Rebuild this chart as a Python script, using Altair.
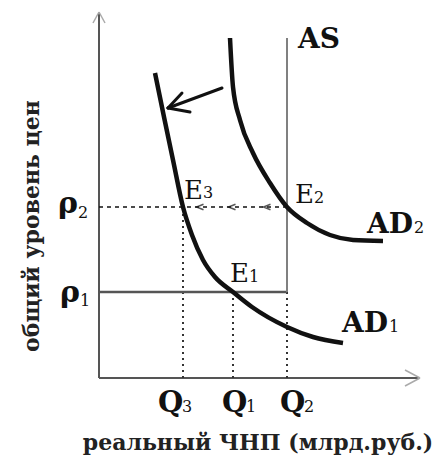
import altair as alt
import pandas as pd

# ---- values (data units: origin at the axes' corner) ----
Q3, Q1, Q2 = 84, 134, 188          # output levels
P1, P2 = 86, 171                   # price levels
AS_TOP = 340                       # top of the vertical AS line
X_END, Y_END = 321, 366            # ends of the axes

AD1_Q = [56, 65, 74, 84, 93, 104, 116, 134, 153, 188, 214, 244]
AD1_P = [305, 261, 218, 171, 143, 118, 101, 86, 71, 51, 41, 35]
AD2_Q = [131, 134, 141, 154, 171, 188, 208, 231, 254, 284]
AD2_P = [340, 291, 258, 225, 195, 171, 155, 143, 138, 137]

SHIFT_FROM = (123, 290)            # shift arrow (AD2 -> AD1)
SHIFT_TO = (69, 270)
SHIFT_WINGS = [(83, 285), (91, 266)]
CHEVRON_Q = [101, 133, 168]        # small arrows on the P2 line

LABEL_TEXT = ["AS", "AD", "AD", "ρ", "ρ", "Q", "Q", "Q"]
LABEL_X = [199, 268, 243, -41, -39, 59, 123, 181]
LABEL_Y = [330, 145, 46, 165, 76, -34, -34, -34]
LABEL_SIZE = [28, 28, 28, 30, 30, 29, 29, 29]

E_X = [85, 196, 131]               # equilibrium point labels E3, E2, E1
E_Y = [179, 175, 96]

SUB_TEXT = ["3", "2", "1", "2", "1", "2", "1", "3", "1", "2"]
SUB_X = [104, 215, 150, 315, 290, -21, -19, 83, 147, 205]
SUB_Y = [180, 175, 96, 145, 46, 160, 72, -34, -34, -34]

X_TITLE = "реальный ЧНП (млрд.руб.)"
Y_TITLE = "общий уровень цен"

FONT = "DejaVu Serif"

xs = alt.Scale(domain=[-91, 334], nice=False, zero=False)
ys = alt.Scale(domain=[-82, 370], nice=False, zero=False)


def segs(rows):
    return pd.DataFrame(rows, columns=["x", "y", "x2", "y2"])


def rule_layer(rows, **style):
    return alt.Chart(segs(rows)).mark_rule(**style).encode(
        x=alt.X("x:Q", scale=xs, axis=None),
        y=alt.Y("y:Q", scale=ys, axis=None),
        x2="x2:Q",
        y2="y2:Q",
    )


axes = rule_layer([(0, 0, 0, Y_END), (0, 0, X_END, 0)], color="#555555", strokeWidth=2)
axis_heads = rule_layer(
    [(0, Y_END, -6, Y_END - 11), (0, Y_END, 6, Y_END - 11),
     (X_END, 0, X_END - 15, 8), (X_END, 0, X_END - 15, -8)],
    color="#aaaaaa", strokeWidth=1.5,
)
as_line = rule_layer([(Q2, P1, Q2, AS_TOP)], color="#808080", strokeWidth=2)
p1_line = rule_layer([(0, P1, Q2, P1)], color="#555555", strokeWidth=2.5)
p2_line = rule_layer([(0, P2, Q2, P2)], color="#111111", strokeWidth=1.5, strokeDash=[4, 4])
dotted = rule_layer(
    [(Q3, 0, Q3, P2), (Q1, 0, Q1, P1), (Q2, 0, Q2, P1)],
    color="#333333", strokeWidth=2, strokeDash=[2, 4],
)
shift = rule_layer(
    [(SHIFT_FROM[0], SHIFT_FROM[1], SHIFT_TO[0], SHIFT_TO[1])]
    + [(SHIFT_TO[0], SHIFT_TO[1], wx, wy) for wx, wy in SHIFT_WINGS],
    color="#111111", strokeWidth=3, strokeCap="round",
)


def curve(qs, ps):
    df = pd.DataFrame({"q": qs, "p": ps, "i": range(len(qs))})
    return alt.Chart(df).mark_line(
        color="#111111", strokeWidth=4.5, interpolate="monotone"
    ).encode(
        x=alt.X("q:Q", scale=xs, axis=None),
        y=alt.Y("p:Q", scale=ys, axis=None),
        order="i:Q",
    )


ad1 = curve(AD1_Q, AD1_P)
ad2 = curve(AD2_Q, AD2_P)

chev = alt.Chart(pd.DataFrame({"q": CHEVRON_Q, "p": [P2] * len(CHEVRON_Q)})).mark_point(
    shape="M1,-0.8L-1,0L1,0.8", size=49, filled=False, stroke="#111111", strokeWidth=1.5
).encode(
    x=alt.X("q:Q", scale=xs, axis=None),
    y=alt.Y("p:Q", scale=ys, axis=None),
)

labels = alt.Chart(pd.DataFrame({"t": LABEL_TEXT, "x": LABEL_X, "y": LABEL_Y, "s": LABEL_SIZE})).mark_text(
    font=FONT, fontWeight="bold", align="left", baseline="alphabetic", color="#111111"
).encode(
    x=alt.X("x:Q", scale=xs, axis=None),
    y=alt.Y("y:Q", scale=ys, axis=None),
    text="t:N",
    size=alt.Size("s:Q", scale=None, legend=None),
)

e_labels = alt.Chart(pd.DataFrame({"t": ["E"] * len(E_X), "x": E_X, "y": E_Y})).mark_text(
    font=FONT, fontSize=26, align="left", baseline="alphabetic", color="#111111"
).encode(
    x=alt.X("x:Q", scale=xs, axis=None),
    y=alt.Y("y:Q", scale=ys, axis=None),
    text="t:N",
)

subs = alt.Chart(pd.DataFrame({"t": SUB_TEXT, "x": SUB_X, "y": SUB_Y})).mark_text(
    font=FONT, fontSize=16, align="left", baseline="alphabetic", color="#111111"
).encode(
    x=alt.X("x:Q", scale=xs, axis=None),
    y=alt.Y("y:Q", scale=ys, axis=None),
    text="t:N",
)

xtitle = alt.Chart(pd.DataFrame({"t": [X_TITLE], "x": [159], "y": [-72]})).mark_text(
    font=FONT, fontWeight="bold", fontSize=22, align="center", baseline="alphabetic", color="#222222"
).encode(
    x=alt.X("x:Q", scale=xs, axis=None),
    y=alt.Y("y:Q", scale=ys, axis=None),
    text="t:N",
)

ytitle = alt.Chart(pd.DataFrame({"t": [Y_TITLE], "x": [-67], "y": [152]})).mark_text(
    font=FONT, fontWeight="bold", fontSize=22, align="center", baseline="middle", angle=270, color="#222222"
).encode(
    x=alt.X("x:Q", scale=xs, axis=None),
    y=alt.Y("y:Q", scale=ys, axis=None),
    text="t:N",
)

chart = alt.layer(
    axes, axis_heads, dotted, p1_line, p2_line, as_line, ad1, ad2, shift, chev,
    labels, e_labels, subs, xtitle, ytitle,
).properties(
    width=425, height=452, padding=0, autosize="none"
).configure_view(stroke=None)

chart.save("out.html", embed_options={"renderer": "svg", "actions": False})
